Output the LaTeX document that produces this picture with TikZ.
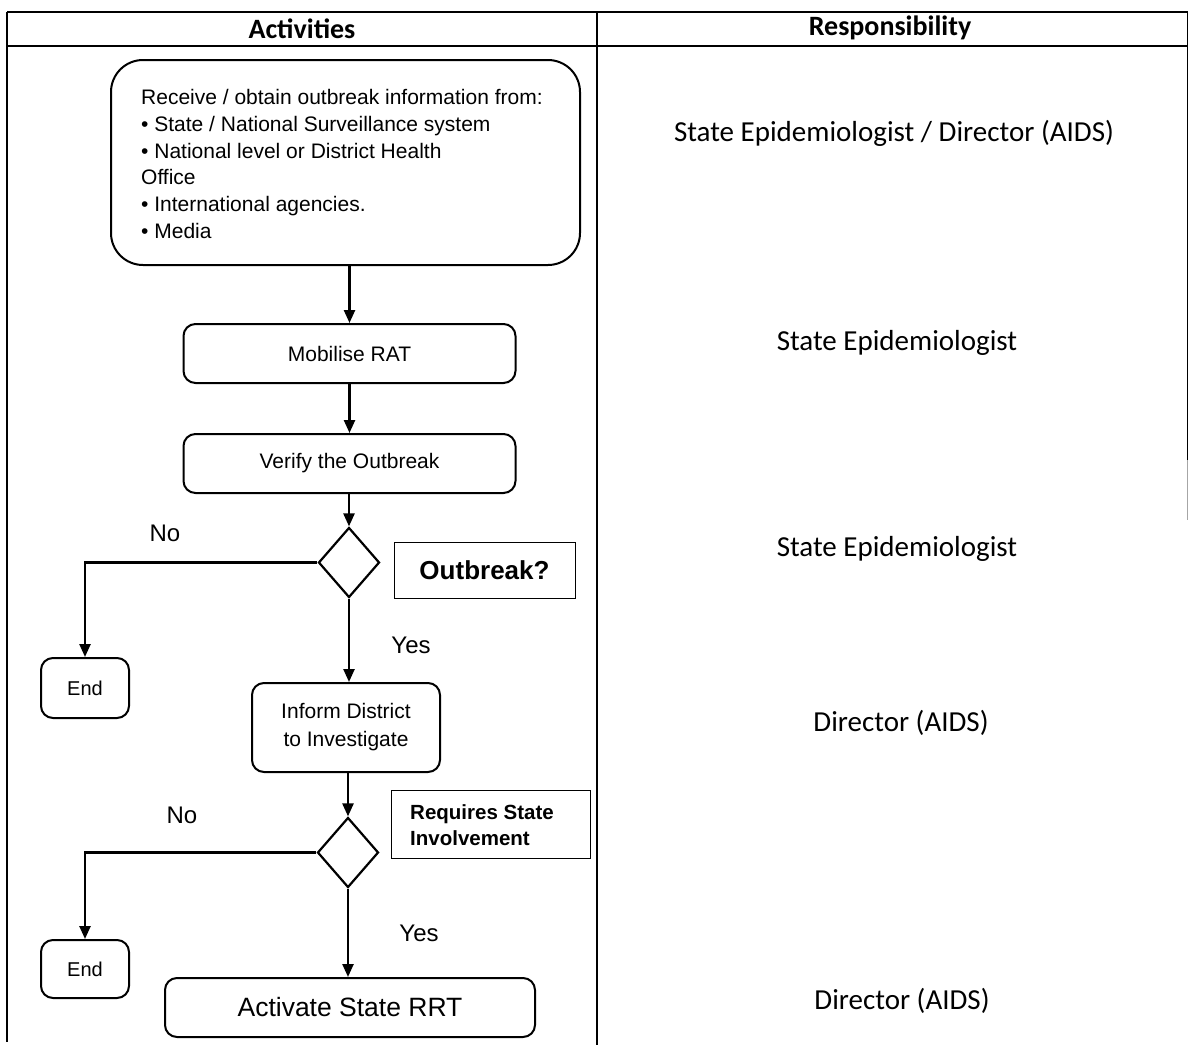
\documentclass[tikz,border=0pt]{standalone}
\usepackage{fontspec}
\setmainfont{Liberation Sans}
\newfontfamily\calibri{Carlito}
\usetikzlibrary{shapes.geometric,arrows.meta}
\begin{document}
\begin{tikzpicture}[x=1pt,y=-1pt,
  tableline/.style={line width=1.2pt},
  flowbox/.style={draw,line width=2pt,rounded corners=12pt,inner sep=0pt,font=\fontsize{21}{25}\selectfont},
  decision/.style={draw,diamond,line width=2.2pt,minimum width=61pt,minimum height=70pt,inner sep=0pt,aspect=0.87},
  labelbox/.style={draw,line width=1pt,inner sep=0pt},
  conn/.style={line width=2.4pt,-{Triangle[length=13pt,width=11pt]}},
  branchlbl/.style={font=\fontsize{24}{28}\selectfont},
  resp/.style={font=\calibri\fontsize{29}{33}\selectfont},
  head/.style={font=\calibri\bfseries\fontsize{28}{32}\selectfont}]
\useasboundingbox (0,0) rectangle (1189,1045);
% table
\draw[tableline] (7,12) -- (1187.5,12);
\draw[tableline] (7,46) -- (1187.5,46);
\draw[tableline] (7,12) -- (7,1042);
\draw[tableline] (597,12) -- (597,1045);
\draw[tableline] (1187.5,12) -- (1187.5,460);
\draw[line width=0.8pt,black!35] (1187.5,460) -- (1187.5,520);
\node[head] (hact) at (302,29) {Activities};
\node[head] (hresp) at (890,28) {Responsibility};
% responsibilities
\node[resp] (r1) at (894,133) {State Epidemiologist / Director (AIDS)};
\node[resp] (r2) at (897,343) {State Epidemiologist};
\node[resp] (r3) at (897,549) {State Epidemiologist};
\node[resp] (r4) at (901,723) {Director (AIDS)};
\node[resp] (r5) at (902,1001) {Director (AIDS)};
% flow
\node[flowbox,rounded corners=32pt,minimum width=469pt,minimum height=205pt] (info) at (345.5,162.5) {};
\node[anchor=north west,inner sep=0pt,align=left,font=\fontsize{21}{26.8}\selectfont] (infotxt) at (141,89)
  {Receive / obtain outbreak information from:\\
   • State / National Surveillance system\\
   • National level or District Health\\
   Office\\
   • International agencies.\\
   • Media};
\node[flowbox,minimum width=332pt,minimum height=59pt] (mob) at (349.5,353.5) {Mobilise RAT};
\node[flowbox,minimum width=332pt,minimum height=59pt] (ver) at (349.5,463.5) {Verify the Outbreak};
\node[decision] (d1) at (349,562.5) {};
\node[labelbox,minimum width=181pt,minimum height=56pt,font=\bfseries\fontsize{26}{30}\selectfont] (q1) at (484.5,570) {Outbreak?};
\node[flowbox,minimum width=88pt,minimum height=60pt,font=\fontsize{20}{24}\selectfont] (end1) at (85,688) {End};
\node[flowbox,minimum width=188pt,minimum height=89pt,align=center,font=\fontsize{21}{28}\selectfont] (inf) at (346,727.5) {Inform District\\to Investigate};
\node[decision] (d2) at (348,852.5) {};
\node[labelbox,minimum width=199pt,minimum height=68pt] (q2) at (490.5,824) {};
\node[anchor=west,inner sep=0pt,align=left,font=\bfseries\fontsize{20.5}{26}\selectfont] (q2txt) at (410,825) {Requires State\\Involvement};
\node[flowbox,minimum width=88pt,minimum height=58pt,font=\fontsize{20}{24}\selectfont] (end2) at (85,969) {End};
\node[flowbox,minimum width=370pt,minimum height=59pt,font=\fontsize{26.5}{30}\selectfont] (act) at (350,1007.5) {Activate State RRT};
% connectors
\draw[conn] (info.south -| mob.north) -- (mob.north);
\draw[conn] (mob) -- (ver);
\draw[conn] (ver.south -| d1.north) -- (d1.north);
\draw[conn] (d1.west) -| (end1.north);
\draw[conn] (d1.south) -- (d1.south |- inf.north);
\draw[conn] (inf.south -| d2.north) -- (d2.north);
\draw[conn] (d2.west) -| (end2.north);
\draw[conn] (d2.south) -- (d2.south |- act.north);
% branch labels
\node[branchlbl] (no1) at (165,533) {No};
\node[branchlbl] (yes1) at (411,645) {Yes};
\node[branchlbl] (no2) at (182,815) {No};
\node[branchlbl] (yes2) at (419,933) {Yes};
\end{tikzpicture}
\end{document}
